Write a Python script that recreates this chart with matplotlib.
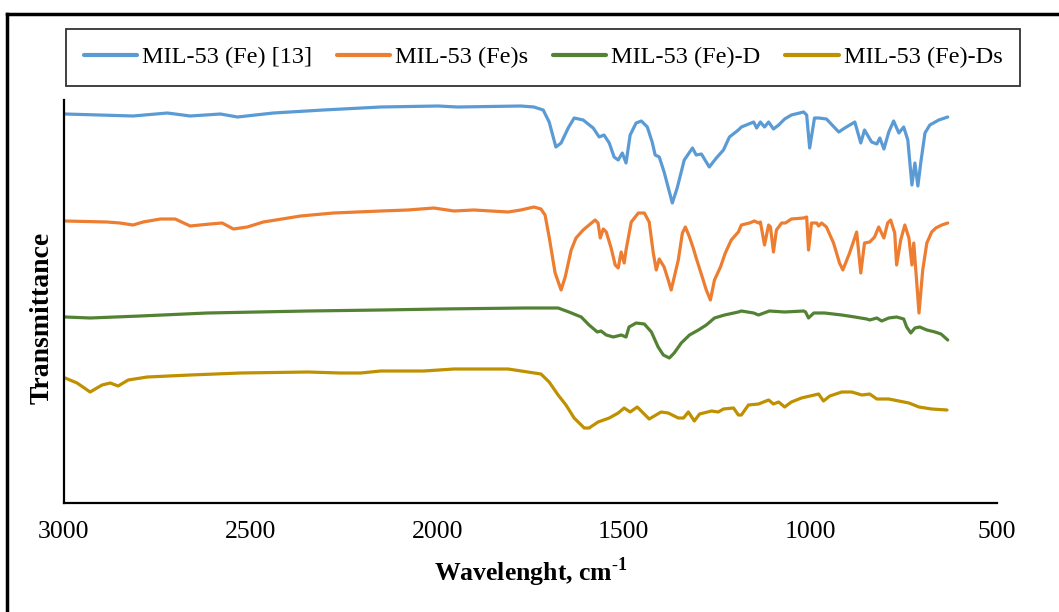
import matplotlib

matplotlib.use("Agg")
import matplotlib.pyplot as plt
from matplotlib.lines import Line2D

plt.rcParams["font.family"] = ["Liberation Serif", "DejaVu Serif"]
plt.rcParams["mathtext.fontset"] = "custom"
plt.rcParams["mathtext.rm"] = "Liberation Serif"
plt.rcParams["mathtext.bf"] = "Liberation Serif:bold"

# FTIR spectra, wavenumber (cm-1) vs transmittance (arbitrary units, stacked)
blue_wn = [2997, 2815, 2723, 2662, 2581, 2535, 2439, 2305, 2151, 1998, 1945, 1776,
           1741, 1716, 1700, 1682, 1668, 1649, 1633, 1609, 1582, 1566, 1553, 1539,
           1526, 1515, 1504, 1494, 1483, 1467, 1453, 1437, 1424, 1416, 1405, 1392,
           1370, 1357, 1338, 1316, 1306, 1292, 1271, 1252, 1233, 1217, 1193, 1185,
           1152, 1144, 1134, 1123, 1112, 1099, 1085, 1069, 1051, 1018, 1010, 1002,
           989, 978, 957, 924, 908, 881, 865, 855, 836, 822, 814, 803, 790, 777,
           763, 750, 739, 728, 720, 712, 704, 693, 680, 656, 632]
blue_t = [389, 387, 390, 387, 389, 386, 390, 393, 396, 397, 396, 397,
          396, 393, 381, 356, 360, 375, 385, 383, 375, 366, 368, 360,
          346, 343, 350, 340, 368, 380, 382, 376, 361, 348, 346, 331,
          300, 315, 343, 355, 348, 349, 336, 345, 353, 366, 373, 376,
          381, 375, 381, 376, 381, 374, 378, 384, 388, 391, 388, 355,
          385, 385, 384, 371, 375, 381, 360, 373, 361, 359, 365, 354, 371, 382,
          370, 376, 363, 318, 340, 317, 341, 370, 378, 383, 386]

orange_wn = [2997, 2885, 2850, 2815, 2788, 2742, 2702, 2662, 2608, 2576, 2546, 2509,
             2466, 2366, 2278, 2151, 2079, 2009, 1955, 1902, 1810, 1776, 1741, 1722,
             1711, 1700, 1684, 1668, 1657, 1641, 1628, 1609, 1593, 1577, 1569, 1563,
             1555, 1547, 1534, 1523, 1515, 1507, 1499, 1494, 1480, 1461, 1445, 1432,
             1421, 1413, 1405, 1392, 1381, 1373, 1354, 1343, 1335, 1324, 1314, 1306,
             1289, 1279, 1268, 1257, 1241, 1228, 1212, 1193, 1185, 1163, 1150, 1139,
             1134, 1123, 1112, 1107, 1099, 1091, 1077, 1067, 1051, 1018, 1010, 1005,
             997, 983, 978, 970, 957, 938, 922, 913, 895, 876, 865, 855, 841, 828,
             817, 803, 793, 785, 774, 769, 758, 747, 736, 728, 723, 709, 699, 688,
             675, 664, 648, 632]
orange_t = [282, 281, 280, 278, 281, 284, 284, 277, 279, 280, 274, 276,
            281, 287, 290, 292, 293, 295, 292, 293, 291, 293, 296, 294,
            288, 266, 230, 213, 226, 253, 265, 273, 278, 283, 280, 265,
            274, 271, 255, 238, 235, 251, 240, 253, 281, 290, 290, 281,
            250, 233, 244, 236, 223, 213, 243, 270, 276, 266, 255, 245,
            225, 213, 203, 223, 236, 250, 263, 271, 278, 280, 282, 280,
            281, 258, 278, 276, 251, 273, 280, 280, 284, 285, 286, 253,
            280, 280, 277, 280, 276, 260, 240, 233, 250, 271, 230, 260, 261, 266,
            276, 265, 280, 283, 270, 238, 263, 278, 265, 238, 260, 190, 233, 260,
            271, 275, 278, 280]

green_wn = [2997, 2930, 2796, 2616, 2347, 2151, 1990, 1767, 1722, 1676, 1647, 1614,
            1593, 1571, 1561, 1547, 1528, 1507, 1494, 1486, 1467, 1445, 1426, 1408,
            1394, 1378, 1365, 1346, 1324, 1300, 1279, 1257, 1230, 1193, 1185, 1152,
            1139, 1110, 1069, 1018, 1013, 1005, 991, 962, 916, 881, 849, 841, 822,
            809, 790, 769, 750, 742, 731, 720, 707, 688, 666, 650, 632]
green_t = [186, 185, 187, 190, 192, 193, 194, 195, 195, 195, 191, 186,
           178, 171, 172, 168, 166, 168, 166, 176, 180, 179, 171, 156,
           148, 145, 150, 160, 168, 173, 178, 185, 188, 191, 192, 190,
           188, 192, 191, 192, 191, 185, 190, 190, 188, 186, 184, 183, 185,
           182, 185, 186, 184, 176, 170, 175, 176, 173, 171, 169, 163]

gold_wn = [2997, 2965, 2930, 2898, 2876, 2855, 2828, 2777, 2662, 2527, 2347, 2259,
           2205, 2151, 2036, 1955, 1810, 1757, 1722, 1700, 1676, 1655, 1633, 1606,
           1593, 1569, 1539, 1515, 1499, 1483, 1464, 1448, 1432, 1400, 1381, 1354,
           1340, 1327, 1311, 1297, 1265, 1247, 1233, 1206, 1193, 1185, 1166, 1139,
           1112, 1099, 1085, 1069, 1051, 1024, 978, 965, 948, 916, 889, 862, 841,
           822, 790, 763, 736, 709, 675, 634]
gold_t = [125, 120, 111, 118, 120, 117, 123, 126, 128, 130, 131, 130,
          130, 132, 132, 134, 134, 131, 129, 121, 108, 98, 85, 75,
          75, 81, 85, 90, 95, 91, 96, 90, 84, 91, 90, 85,
          85, 91, 82, 89, 92, 91, 94, 95, 88, 88, 98, 99,
          103, 99, 101, 96, 101, 105, 109, 102, 107, 111, 111, 108, 109,
          104, 104, 102, 100, 96, 94, 93]

series = [
    ("MIL-53 (Fe) [13]", blue_wn, blue_t, "#5B9BD5"),
    ("MIL-53 (Fe)s", orange_wn, orange_t, "#ED7D31"),
    ("MIL-53 (Fe)-D", green_wn, green_t, "#548235"),
    ("MIL-53 (Fe)-Ds", gold_wn, gold_t, "#BF9000"),
]

fig = plt.figure(figsize=(10.59, 6.12), dpi=100)
ax = fig.add_axes([64 / 1059, 1 - 503 / 612, 933 / 1059, 403 / 612])

for name, wn, t, color in series:
    ax.plot(wn, t, color=color, linewidth=2.3, label=name,
            solid_joinstyle="round", solid_capstyle="round")

ax.set_xlim(3000, 500)
ax.set_ylim(0, 403)
ax.set_xticks([3000, 2500, 2000, 1500, 1000, 500])
ax.set_yticks([])
ax.tick_params(axis="x", length=0, pad=13, labelsize=18.5)
for side in ("top", "right"):
    ax.spines[side].set_visible(False)
for side in ("left", "bottom"):
    ax.spines[side].set_linewidth(1.6)
    ax.spines[side].set_color("black")

ax.set_xlabel(r"Wavelenght, cm$^{\mathbf{\text{-}1}}$", fontsize=18.5,
              fontweight="bold", labelpad=9)
ax.set_ylabel("Transmittance", fontsize=20, fontweight="bold")
ax.yaxis.set_label_coords(-0.010, 0.459)

leg = fig.legend(loc="center", mode="expand", borderaxespad=0,
                 bbox_to_anchor=(66 / 1059, 1 - 87 / 612, 954 / 1059, 59 / 612),
                 ncol=4, fontsize=17.5, frameon=True, fancybox=False,
                 handlelength=2.2, handletextpad=0.2, columnspacing=1.0,
                 borderpad=0.72)
leg.get_frame().set_edgecolor("black")
leg.get_frame().set_linewidth(1.3)
for h in leg.get_lines():
    h.set_linewidth(3)

# outer frame (top and left edges)
fig.add_artist(Line2D([7 / 1059, 1], [1 - 14 / 612, 1 - 14 / 612],
                      transform=fig.transFigure, color="black", linewidth=2.5))
fig.add_artist(Line2D([7 / 1059, 7 / 1059], [0, 1 - 14 / 612],
                      transform=fig.transFigure, color="black", linewidth=2.5))

fig.savefig("out.png", dpi=100, facecolor="white")
